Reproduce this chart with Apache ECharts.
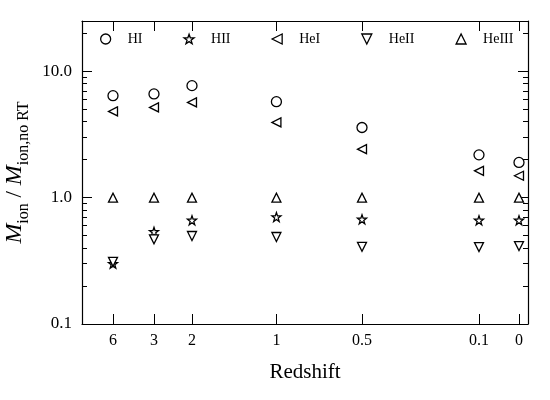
<!DOCTYPE html>
<html>
<head>
<meta charset="utf-8">
<script src="https://cdn.jsdelivr.net/npm/echarts@6/dist/echarts.min.js"></script>
<style>
  html, body { margin: 0; padding: 0; background: #fff; }
  #chart { width: 550px; height: 400px; }
</style>
</head>
<body>
<div id="chart"></div>
<script>
// redshift labels and where they sit along the x axis (0..100 units)
const redshifts = ["6", "3", "2", "1", "0.5", "0.1", "0"];
const xPos = [6.95, 16.14, 24.66, 43.59, 62.78, 89.01, 97.98];

// M_ion / M_ion,noRT for each species
const HI = [6.41, 6.62, 7.7, 5.75, 3.59, 2.18, 1.9];
const HII = [0.3, 0.537, 0.662, 0.703, 0.674, 0.662, 0.662];
const HeI = [4.81, 5.18, 5.67, 3.94, 2.42, 1.63, 1.49];
const HeII = [0.31, 0.468, 0.497, 0.488, 0.408, 0.406, 0.414];
const HeIII = [1.0, 1.0, 1.0, 1.0, 1.0, 1.0, 1.0];

const yMajor = [0.1, 1, 10];
const yMinor = [0.2, 0.3, 0.4, 0.5, 0.6, 0.7, 0.8, 0.9, 2, 3, 4, 5, 6, 7, 8, 9, 20];

const chartDom = document.getElementById("chart");
const myChart = echarts.init(chartDom);

const FONT = "Liberation Serif";
const STAR = "path://M0,-10L2.35,-3.24L9.51,-3.09L3.8,1.24L5.88,8.09L0,4L-5.88,8.09L-3.8,1.24L-9.51,-3.09L-2.35,-3.24Z";
const TRI_LEFT = "path://M10,0L0,5L10,10Z";
const TRI_DOWN = "path://M0,0L10,0L5,10Z";
const TRI_UP = "path://M0,10L10,10L5,0Z";

const pts = (arr) => arr.map((v, i) => [xPos[i], v]);

const mkSeries = (name, data, symbol, size) => ({
  name: name,
  type: "scatter",
  data: pts(data),
  symbol: symbol,
  symbolSize: size,
  itemStyle: { color: "#fff", borderColor: "#000", borderWidth: 1.3, opacity: 1 },
  emphasis: { disabled: true },
  z: 3,
});

const xBase = (pos, labels) => ({
  type: "value",
  min: 0,
  max: 100,
  position: pos,
  axisLine: { show: true, onZero: false, lineStyle: { color: "#000", width: 1.2 } },
  axisTick: { show: true, inside: true, length: 10, customValues: xPos, lineStyle: { color: "#000", width: 1 } },
  axisLabel: {
    show: labels,
    customValues: xPos,
    margin: 9,
    fontFamily: FONT,
    fontSize: 16,
    color: "#000",
    formatter: (v) => {
      const i = xPos.findIndex((p) => Math.abs(p - v) < 1e-6);
      return i >= 0 ? redshifts[i] : "";
    },
  },
  splitLine: { show: false },
});

const yBase = (pos, ticks, len, labels, line) => ({
  type: "log",
  logBase: 10,
  min: 0.1,
  max: 25,
  position: pos,
  axisLine: { show: line, onZero: false, lineStyle: { color: "#000", width: 1.2 } },
  axisTick: { show: true, inside: true, length: len, customValues: ticks, lineStyle: { color: "#000", width: 1 } },
  axisLabel: {
    show: labels,
    customValues: ticks,
    margin: 10,
    fontFamily: FONT,
    fontSize: 17,
    color: "#000",
    formatter: (v) => Number(v).toFixed(1),
  },
  splitLine: { show: false },
  minorTick: { show: false },
});

const yMain = yBase("left", yMajor, 10, true, true);
yMain.name = "{m|M}{s|ion}{t| / }{m|M}{s|ion,no RT}";
yMain.nameLocation = "middle";
yMain.nameRotate = 90;
yMain.nameGap = 50;
yMain.nameTextStyle = {
  fontFamily: FONT,
  color: "#000",
  rich: {
    m: { fontFamily: FONT, fontSize: 24, fontStyle: "italic", color: "#000", verticalAlign: "bottom", lineHeight: 26 },
    s: { fontFamily: FONT, fontSize: 16, color: "#000", verticalAlign: "bottom", lineHeight: 20, padding: [0, 0, -5, 0] },
    t: { fontFamily: FONT, fontSize: 23, color: "#000", verticalAlign: "bottom", lineHeight: 26 },
  },
};

const xMain = xBase("bottom", true);
xMain.name = "Redshift";
xMain.nameLocation = "middle";
xMain.nameGap = 38;
xMain.nameTextStyle = { fontFamily: FONT, fontSize: 21, color: "#000" };

const option = {
  animation: false,
  backgroundColor: "#fff",
  grid: { left: 82, right: 22, top: 21, bottom: 76, outerBoundsMode: "none" },
  legend: {
    top: 27,
    left: 95,
    itemWidth: 10,
    itemHeight: 10,
    itemGap: 41,
    itemStyle: { borderWidth: 1.3 },
    textStyle: { fontFamily: FONT, fontSize: 14, color: "#000", padding: [0, 0, 0, 12] },
    data: ["HI", "HII", "HeI", "HeII", "HeIII"],
  },
  xAxis: [xMain, xBase("top", false)],
  yAxis: [
    yMain,
    yBase("left", yMinor, 5, false, false),
    yBase("right", yMajor, 10, false, true),
    yBase("right", yMinor, 5, false, false),
  ],
  series: [
    mkSeries("HI", HI, "circle", 10),
    mkSeries("HII", HII, STAR, 9),
    mkSeries("HeI", HeI, TRI_LEFT, 9),
    mkSeries("HeII", HeII, TRI_DOWN, 9),
    mkSeries("HeIII", HeIII, TRI_UP, 9),
  ],
};

option && myChart.setOption(option);
</script>
</body>
</html>
